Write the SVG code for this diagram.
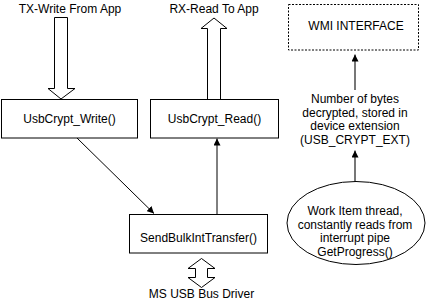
<svg xmlns="http://www.w3.org/2000/svg" width="428" height="302" viewBox="0 0 428 302">
  <style>
    text { font-family: "Liberation Sans", Arial, sans-serif; font-size: 12px; fill: #000; text-anchor: middle; }
    .box { fill: #fff; stroke: #000; stroke-width: 1; }
    .dash { fill: #fff; stroke: #000; stroke-width: 1; stroke-dasharray: 2 1.5; }
    .hollow { fill: #fff; stroke: #000; stroke-width: 1; stroke-linejoin: miter; }
    .link { fill: none; stroke: #000; stroke-width: 1; }
    .gray { fill: none; stroke: #555; stroke-width: 1.6; }
  </style>
  <defs>
    <marker id="arrow" viewBox="0 0 10 10" refX="10" refY="5" markerWidth="7" markerHeight="7" markerUnits="userSpaceOnUse" orient="auto">
      <path d="M0,0 L10,5 L0,10 Z" fill="#000"/>
    </marker>
  </defs>
  <rect width="428" height="302" fill="#fff"/>

  <!-- application-side labels -->
  <text x="70" y="13">TX-Write From App</text>
  <text x="214" y="13">RX-Read To App</text>

  <!-- hollow flow arrows and connectors -->
  <g id="connectors">
    <!-- write data coming down from the app -->
    <path class="hollow" d="M54.5,17.5 H67.5 V88.5 H75 L61,99 L48,88.5 H54.5 Z"/>
    <!-- read data going up to the app -->
    <path class="hollow" d="M207.5,100 V28.5 H201 L214,18 L227,28.5 H220.5 V100"/>
    <!-- bus driver exchange -->
    <path class="hollow" d="M201.5,258.5 L215,268.5 H207.5 V277.5 H215 L201.5,287.5 L188,277.5 H195.5 V268.5 H188 Z"/>
    <!-- write -> bulk transfer -->
    <line class="link" x1="77" y1="138" x2="154" y2="213.5" marker-end="url(#arrow)"/>
    <!-- bulk transfer -> read -->
    <line class="link" x1="217" y1="214.5" x2="217" y2="138.5" marker-end="url(#arrow)"/>
    <!-- progress thread -> status text -->
    <line class="gray" x1="355" y1="182" x2="355" y2="150.5" marker-end="url(#arrow)"/>
    <!-- status text -> WMI -->
    <line class="gray" x1="355" y1="90" x2="355" y2="54.5" marker-end="url(#arrow)"/>
  </g>

  <g id="usbcrypt-write">
    <rect class="box" x="1.5" y="99.5" width="136" height="38.5"/>
    <text x="69.5" y="123">UsbCrypt_Write()</text>
  </g>

  <g id="usbcrypt-read">
    <rect class="box" x="150.5" y="99.5" width="128" height="38.5"/>
    <text x="214.5" y="123">UsbCrypt_Read()</text>
  </g>

  <g id="send-bulk">
    <rect class="box" x="129.5" y="214.5" width="138" height="38.5"/>
    <text x="198.5" y="242">SendBulkIntTransfer()</text>
  </g>

  <g id="bus-driver">
    <text x="201.5" y="298">MS USB Bus Driver</text>
  </g>

  <g id="wmi">
    <rect class="dash" x="288.5" y="4.5" width="130" height="45.5"/>
    <text x="356" y="30">WMI INTERFACE</text>
  </g>

  <g id="status">
    <text x="355" y="103">Number of bytes</text>
    <text x="355" y="116.5">decrypted, stored in</text>
    <text x="355" y="130">device extension</text>
    <text x="355" y="143.5">(USB_CRYPT_EXT)</text>
  </g>

  <g id="work-item">
    <ellipse class="box" cx="356" cy="223" rx="69" ry="41.5"/>
    <text x="355" y="215">Work Item thread,</text>
    <text x="355" y="228.5">constantly reads from</text>
    <text x="355" y="242">interrupt pipe</text>
    <text x="355" y="255.5">GetProgress()</text>
  </g>
</svg>
